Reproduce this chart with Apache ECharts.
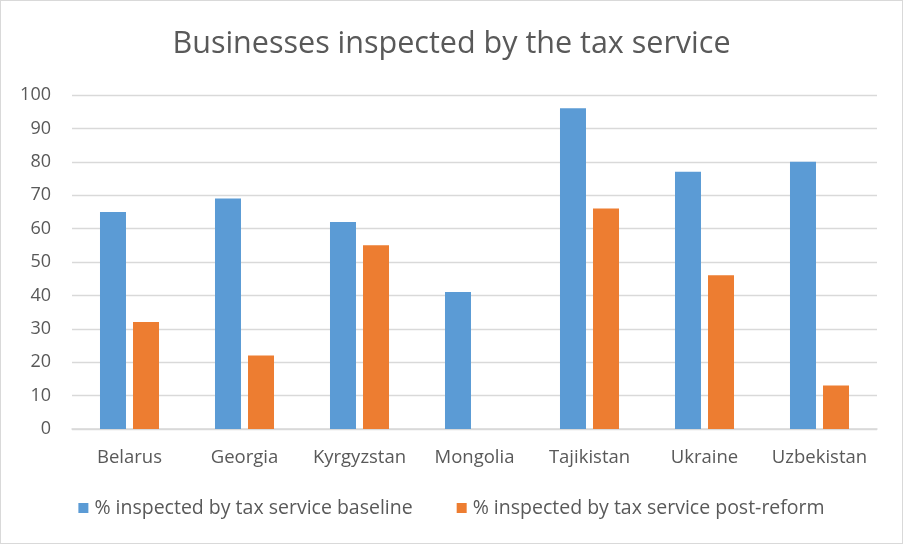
<!DOCTYPE html>
<html>
<head>
<meta charset="utf-8">
<script src="https://cdn.jsdelivr.net/npm/echarts@6/dist/echarts.min.js"></script>
<style>
  html, body { margin: 0; padding: 0; background: #fff; }
  #chart { width: 903px; height: 544px; box-sizing: border-box; border: 1px solid #d9d9d9; }
</style>
</head>
<body>
<div id="chart"></div>
<script>
// Share of businesses inspected by the tax service, per country
const countries = ['Belarus', 'Georgia', 'Kyrgyzstan', 'Mongolia', 'Tajikistan', 'Ukraine', 'Uzbekistan'];
const baseline = [65, 69, 62, 41, 96, 77, 80];
const postReform = [32, 22, 55, null, 66, 46, 13];
const seriesNames = ['% inspected by tax service baseline', '% inspected by tax service post-reform'];
const yTicks = { min: 0, max: 100, interval: 10 };

const font = '"Open Sans", "Liberation Sans", sans-serif';
const chart = echarts.init(document.getElementById('chart'), null, { renderer: 'canvas' });
chart.setOption({
  animation: false,
  textStyle: { fontFamily: font },
  title: {
    text: 'Businesses inspected by the tax service',
    left: 'center',
    top: 23,
    textStyle: { fontFamily: font, fontSize: 30.5, fontWeight: 'normal', color: '#595959' }
  },
  legend: {
    bottom: 20,
    left: 'center',
    itemWidth: 10,
    itemHeight: 10,
    itemGap: 44,
    icon: 'rect',
    textStyle: { fontFamily: font, fontSize: 19.5, color: '#595959', padding: [0, 0, 0, 1] },
    data: seriesNames
  },
  grid: { left: 71, right: 25, top: 94, bottom: 114 },
  xAxis: {
    type: 'category',
    data: countries,
    axisLine: { lineStyle: { color: '#d9d9d9', width: 1.5 } },
    axisTick: { show: false },
    axisLabel: { fontFamily: font, fontSize: 18.5, color: '#595959', margin: 19, interval: 0, hideOverlap: false }
  },
  yAxis: {
    type: 'value',
    min: yTicks.min,
    max: yTicks.max,
    interval: yTicks.interval,
    axisLine: { show: false },
    axisTick: { show: false },
    axisLabel: { fontFamily: font, fontSize: 18, color: '#595959', margin: 21 },
    splitLine: { lineStyle: { color: '#d9d9d9', width: 1.3 } }
  },
  series: [
    {
      name: seriesNames[0],
      type: 'bar',
      data: baseline,
      barWidth: 26,
      barGap: '27%',
      itemStyle: { color: '#5b9bd5' }
    },
    {
      name: seriesNames[1],
      type: 'bar',
      data: postReform,
      barWidth: 26,
      barGap: '27%',
      itemStyle: { color: '#ed7d31' }
    }
  ]
});
</script>
</body>
</html>
